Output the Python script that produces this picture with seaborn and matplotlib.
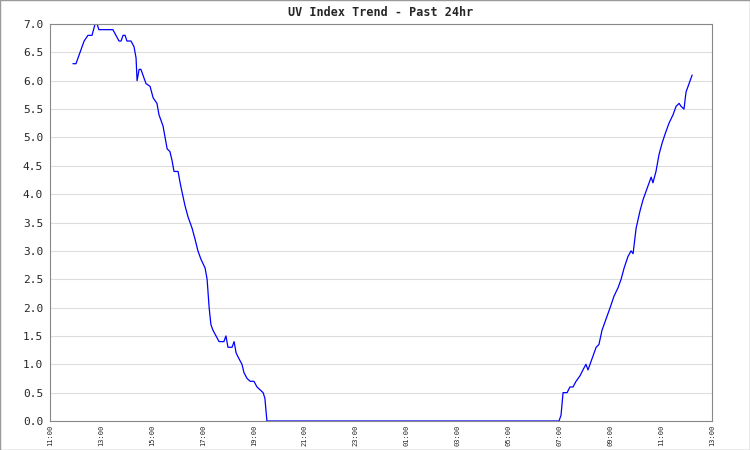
import matplotlib
matplotlib.use("Agg")
import matplotlib.pyplot as plt
import seaborn as sns
import pandas as pd

hours = [0.90,1.02,1.18,1.34,1.49,1.65,1.77,1.85,1.92,2.47,2.59,2.71,2.79,2.87,2.95,3.02,3.18,3.30,3.38,3.42,3.50,3.57,3.65,3.77,3.93,4.05,4.20,4.28,4.44,4.52,4.60,4.71,4.79,4.87,5.03,5.11,5.18,5.30,5.42,5.58,5.70,5.81,5.93,6.09,6.17,6.25,6.32,6.40,6.52,6.64,6.83,6.91,6.99,7.15,7.23,7.31,7.42,7.54,7.62,7.74,7.86,8.01,8.13,8.25,8.37,8.44,8.52,
         19.99,20.07,20.15,20.31,20.42,20.54,20.66,20.82,20.93,21.05,21.13,21.29,21.45,21.56,21.68,21.84,22.00,22.15,22.31,22.43,22.55,22.70,22.82,22.90,23.02,23.17,23.29,23.45,23.61,23.68,23.80,23.92,24.04,24.15,24.31,24.47,24.59,24.71,24.78,24.90,24.98,25.06,25.14,25.22]
uv = [6.3,6.3,6.5,6.7,6.8,6.8,7.0,7.0,6.9,6.9,6.8,6.7,6.7,6.8,6.8,6.7,6.7,6.6,6.4,6.0,6.2,6.2,6.1,5.95,5.9,5.7,5.6,5.4,5.2,5.0,4.8,4.75,4.6,4.4,4.4,4.2,4.05,3.8,3.6,3.4,3.2,3.0,2.85,2.7,2.5,2.0,1.7,1.6,1.5,1.4,1.4,1.5,1.3,1.3,1.4,1.2,1.1,1.0,0.85,0.75,0.7,0.7,0.6,0.55,0.5,0.4,0.0,
      0.0,0.1,0.5,0.5,0.6,0.6,0.7,0.8,0.9,1.0,0.9,1.1,1.3,1.35,1.6,1.8,2.0,2.2,2.35,2.5,2.7,2.9,3.0,2.95,3.4,3.7,3.9,4.1,4.3,4.2,4.4,4.7,4.9,5.05,5.25,5.4,5.55,5.6,5.55,5.5,5.8,5.9,6.0,6.1]
tick_pos = list(range(0, 27, 2))
tick_labels = ["11:00","13:00","15:00","17:00","19:00","21:00","23:00","01:00","03:00","05:00","07:00","09:00","11:00","13:00"]

sns.set_style("white")
plt.rcParams['font.family'] = ['DejaVu Sans Mono']
fig = plt.figure(figsize=(7.5, 4.5), dpi=100)
fig.patches.append(plt.Rectangle((0, 0), 1, 1, transform=fig.transFigure, fill=False, edgecolor="#999999", lw=1))
ax = fig.add_axes([50/750, 29/450, 662/750, 397/450])
df = pd.DataFrame({"h": hours, "uv": uv})
sns.lineplot(data=df, x="h", y="uv", ax=ax, color="#0000ff", lw=0.9, sort=False)
ax.set_xlim(0, 26)
ax.set_ylim(0, 7)
ax.set_yticks([i*0.5 for i in range(15)])
ax.set_yticklabels([f"{i*0.5:.1f}" for i in range(15)], fontsize=8)
ax.set_xticks(tick_pos)
ax.set_xticklabels(tick_labels, rotation=90, fontsize=5)
ax.yaxis.grid(True, color="#dddddd", lw=0.8)
ax.set_xlabel(""); ax.set_ylabel("")
for s in ax.spines.values():
    s.set_color("#888888"); s.set_linewidth(0.8)
ax.tick_params(axis="y", length=3, color="#888888", pad=2)
ax.tick_params(axis="x", length=2, color="#888888", pad=1)
ax.set_title("UV Index Trend - Past 24hr", fontsize=8.5, fontweight="bold", pad=6)
fig.savefig("out.png", dpi=100)
